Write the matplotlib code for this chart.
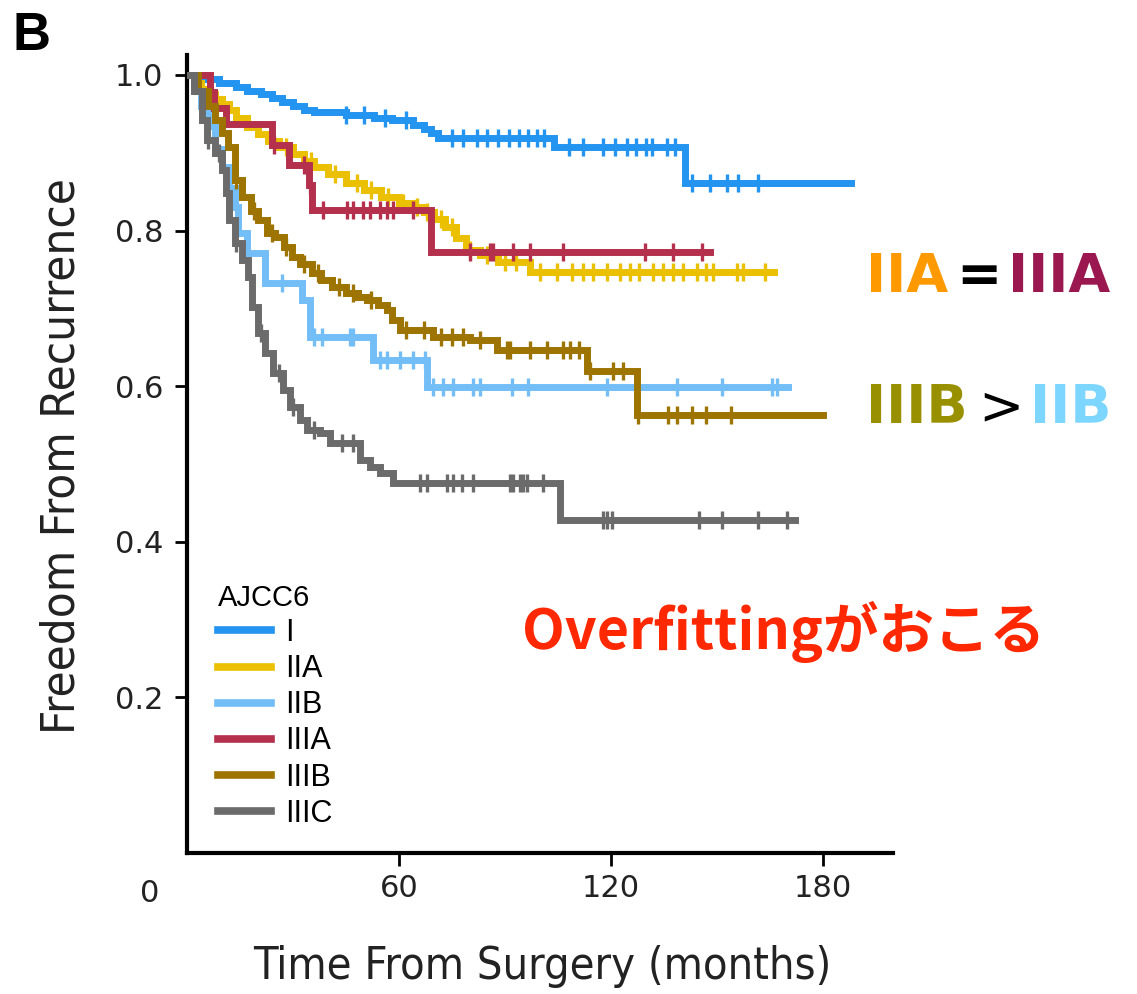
import numpy as np
import matplotlib
matplotlib.use("Agg")
import matplotlib.pyplot as plt

# ---------------- data ----------------
groups = ["I", "IIA", "IIB", "IIIA", "IIIB", "IIIC"]
colors = ["#2394F0", "#EBC000", "#74BEF8", "#B4304C", "#9E7400", "#6B6B6B"]

I_t = [0, 5, 9, 14, 17, 21, 24, 27, 30, 33, 36, 45, 53, 58, 64, 67, 69, 71, 104, 141]
I_s = [1.0, 0.995, 0.99, 0.985, 0.98, 0.976, 0.97, 0.965, 0.96, 0.955, 0.952, 0.949,
       0.945, 0.942, 0.936, 0.93, 0.925, 0.919, 0.907, 0.861]
I_end = 188
I_cens = [45, 50, 56, 62, 75, 78, 82, 85, 88, 91, 94, 96.5, 99, 101, 108, 112, 117.7,
          121, 124.5, 127, 130, 131.6, 135.8, 138, 143, 148, 152.8, 156, 161.6]

IIA_t = [0, 2, 4, 6, 8, 10, 12, 14, 17, 20, 23, 26, 30, 33, 36, 40, 45, 50, 55, 60, 64,
         67, 70, 73, 76, 79, 83, 88, 97]
IIA_s = [1.0, 0.99, 0.982, 0.975, 0.969, 0.963, 0.955, 0.945, 0.933, 0.924, 0.915, 0.907,
         0.898, 0.89, 0.882, 0.873, 0.861, 0.852, 0.843, 0.836, 0.83, 0.824, 0.815, 0.805,
         0.79, 0.775, 0.768, 0.76, 0.747]
IIA_end = 166
IIA_cens = [28, 35, 42, 48, 52, 57, 61, 65, 68, 72, 75, 80, 85, 90, 93, 100, 104.7, 109,
            112, 115, 119, 122.6, 125.4, 128, 132, 134.8, 137.6, 140.4, 144.3, 147, 149,
            155.7, 157.4, 163.6]

IIB_t = [0, 2, 4, 6, 8, 9.9, 12, 13.6, 14.5, 17, 22, 32.5, 34.8, 52.7, 67.8]
IIB_s = [1.0, 0.98, 0.96, 0.935, 0.905, 0.882, 0.855, 0.83, 0.797, 0.771, 0.733, 0.711,
         0.663, 0.634, 0.599]
IIB_end = 170
IIB_cens = [27, 36, 38.2, 46, 47, 54.6, 56.6, 60.3, 64, 67.4, 69.6, 72.5, 75.3, 81, 83,
            92, 96.5, 118.9, 138.7, 151.4, 165.6, 167]

IIIA_t = [0, 6.5, 7.5, 11, 24, 29, 34.5, 35.5, 69]
IIIA_s = [1.0, 0.978, 0.957, 0.937, 0.91, 0.884, 0.858, 0.827, 0.772]
IIIA_end = 148
IIIA_cens = [24.5, 33, 34.8, 38.5, 45.3, 47, 49.8, 51.8, 54.6, 56.6, 58.3, 64, 80, 85.8,
             86.5, 92.3, 97, 106.4, 129.6, 137.6, 145.8]

IIIB_t = [0, 3, 6, 8, 10, 11.6, 13.6, 15.6, 18, 20, 22.6, 25, 27.5, 29.7, 32, 35.4, 38,
          41, 45, 48.4, 51, 54, 56.6, 58, 60.3, 69.6, 80, 87.7, 113.2, 127.4]
IIIB_s = [1.0, 0.98, 0.96, 0.942, 0.925, 0.907, 0.865, 0.843, 0.825, 0.814, 0.797, 0.792,
          0.779, 0.766, 0.757, 0.745, 0.737, 0.728, 0.72, 0.715, 0.711, 0.704, 0.698,
          0.685, 0.672, 0.663, 0.659, 0.647, 0.619, 0.563]
IIIB_end = 180
IIIB_cens = [14, 19, 24, 28, 33, 37, 43, 47, 52, 62, 67, 72, 75, 78, 83, 90.6, 91.4, 97,
             102, 106.4, 108.4, 111, 114, 120.6, 123.4, 127.7, 136, 138.7, 143, 147, 154]

IIIC_t = [0, 2, 4.2, 5.7, 8, 10, 11, 12, 13.6, 15.6, 17.3, 18.4, 20, 22, 24.3, 27.2, 29.2,
          32, 34, 37.6, 40.5, 49, 51.8, 54.6, 58.3, 105.6]
IIIC_s = [1.0, 0.98, 0.942, 0.916, 0.9, 0.878, 0.848, 0.814, 0.784, 0.762, 0.74, 0.702,
          0.668, 0.643, 0.617, 0.595, 0.573, 0.557, 0.544, 0.54, 0.527, 0.505, 0.496,
          0.488, 0.476, 0.428]
IIIC_end = 172
IIIC_cens = [6, 9, 14, 21, 26, 30, 36, 44, 47, 66, 68, 73.6, 75.3, 77.8, 81, 91.4, 92.3,
             94.3, 95, 96.2, 100.8, 117.7, 118.9, 120.3, 145, 151.4, 161.6, 169.8]

x_ticks = [60, 120, 180]
y_ticks = [0.2, 0.4, 0.6, 0.8, 1.0]
y_ticklabels = ["0.2", "0.4", "0.6", "0.8", "1.0"]

series = [
    (I_t, I_s, I_end, I_cens),
    (IIA_t, IIA_s, IIA_end, IIA_cens),
    (IIB_t, IIB_s, IIB_end, IIB_cens),
    (IIIA_t, IIIA_s, IIIA_end, IIIA_cens),
    (IIIB_t, IIIB_s, IIIB_end, IIIB_cens),
    (IIIC_t, IIIC_s, IIIC_end, IIIC_cens),
]

# ---------------- figure ----------------
W, H = 1137, 994
fig = plt.figure(figsize=(W / 100, H / 100), dpi=100)
ax = fig.add_axes([187 / W, 1 - 853 / H, 706 / W, 798 / H])

for k, (name, col, (t, s, end, cens)) in enumerate(zip(groups, colors, series)):
    t = np.asarray(t, float)
    s = np.asarray(s, float)
    ax.step(np.append(t, end), np.append(s, s[-1]), where="post", color=col,
            lw=5, label=name, zorder=2 + k, solid_joinstyle="miter")
    c = np.asarray(cens, float)
    idx = np.searchsorted(t, c, side="right") - 1
    ax.plot(c, s[idx], ls="none", marker="|", ms=13, mew=2.4, color=col, zorder=2 + k)

ax.set_xlim(0, 199.8)
ax.set_ylim(0, 1.0257)
ax.spines["top"].set_visible(False)
ax.spines["right"].set_visible(False)
for sp in ("left", "bottom"):
    ax.spines[sp].set_linewidth(3)
ax.set_xticks(x_ticks)
ax.set_xticklabels([str(v) for v in x_ticks])
ax.set_yticks(y_ticks)
ax.set_yticklabels(y_ticklabels)
ax.tick_params(axis="both", direction="out", length=9, width=2, labelsize=22,
               colors="black")
ax.tick_params(axis="x", pad=6)
ax.tick_params(axis="y", pad=8)
for lab in ax.get_xticklabels() + ax.get_yticklabels():
    lab.set_color("#222222")

# corner "0"
ax.annotate("0", xy=(0, 0), xycoords="data", xytext=(-37 * 0.72, -40 * 0.72),
            textcoords="offset points", ha="center", va="center", fontsize=22,
            color="#222222")

# axis labels
fig.text(542 / W, 1 - 966 / H, "Time From Surgery (months)", ha="center", va="center",
         fontsize=32.3, fontstretch="condensed", color="#222222")
fig.text(62 / W, 1 - 456 / H, "Freedom From Recurrence", ha="center", va="center",
         rotation=90, fontsize=34, fontstretch="condensed", color="#222222")

# legend
leg = ax.legend(title="AJCC6", loc="upper left", bbox_to_anchor=(218 / W, 1 - 584 / H),
                bbox_transform=fig.transFigure, frameon=False, borderpad=0,
                borderaxespad=0, handlelength=1.75, handletextpad=0.45,
                labelspacing=0.2, prop={"family": "Liberation Sans", "size": 22},
                title_fontproperties={"family": "Liberation Sans", "size": 21})
leg._legend_box.align = "left"
for h in leg.get_lines():
    h.set_linewidth(5.5)

# panel letter
fig.text(13 / W, 1 - 50 / H, "B", ha="left", va="baseline", fontsize=38,
         fontweight="bold", family="Liberation Sans")

# right annotations
big = dict(fontsize=39, fontweight="bold", family="DejaVu Sans", va="baseline",
           ha="left")
fig.text(866 / W, 1 - 292 / H, "IIA", color="#FF9900", **big)
fig.text(956 / W, 1 - 292 / H, "=", color="black", **big)
fig.text(1008 / W, 1 - 292 / H, "IIIA", color="#9B1750", **big)
fig.text(866 / W, 1 - 423 / H, "IIIB", color="#999000", **big)
fig.text(978 / W, 1 - 423 / H, ">", color="black",
         **{**big, "fontweight": "normal"})
fig.text(1030 / W, 1 - 423 / H, "IIB", color="#7DD6FF", **big)

fig.text(522 / W, 1 - 649 / H, "Overfittingがおこる", color="#FF2800", fontsize=40,
         fontweight="bold", family=["Noto Sans CJK JP", "DejaVu Sans"],
         ha="left", va="baseline")

fig.savefig("out.png", dpi=100)
